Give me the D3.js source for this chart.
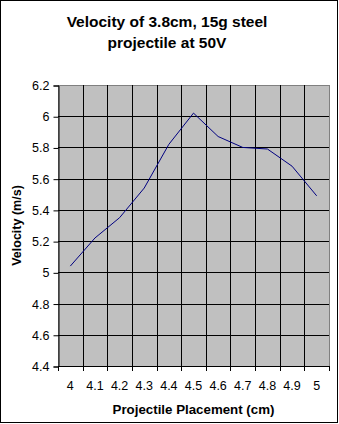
<!DOCTYPE html>
<html>
<head>
<meta charset="utf-8">
<script src="https://cdn.jsdelivr.net/npm/d3@7/dist/d3.min.js"></script>
<style>
  html, body { margin: 0; padding: 0; background: #fff; }
  svg { display: block; font-family: "Liberation Sans", Arial, sans-serif; }
</style>
</head>
<body>
<svg id="chart" width="339" height="424"></svg>
<script>
// Projectile placement (cm) categories and measured velocities (m/s)
const placements = ["4", "4.1", "4.2", "4.3", "4.4", "4.5", "4.6", "4.7", "4.8", "4.9", "5"];
const velocities = [5.04, 5.22, 5.35, 5.54, 5.82, 6.02, 5.87, 5.80, 5.79, 5.68, 5.49];
const yTicks = [4.4, 4.6, 4.8, 5.0, 5.2, 5.4, 5.6, 5.8, 6.0, 6.2];
const titleLines = ["Velocity of 3.8cm, 15g steel", "projectile at 50V"];
const xTitle = "Projectile Placement (cm)";
const yTitle = "Velocity (m/s)";

const svg = d3.select("#chart");
const plot = { left: 58, right: 329, top: 85, bottom: 366 };

// outer chart frame
svg.append("rect")
  .attr("x", 0.5).attr("y", 0.5)
  .attr("width", 337).attr("height", 422)
  .attr("fill", "#fff").attr("stroke", "#000").attr("stroke-width", 1);

const x = d3.scaleBand().domain(placements).range([plot.left, plot.right]).padding(0);
const y = d3.scaleLinear().domain([yTicks[0], yTicks[yTicks.length - 1]]).range([plot.bottom, plot.top]);

// plot background
svg.append("rect")
  .attr("x", plot.left + 0.5).attr("y", plot.top + 0.5)
  .attr("width", plot.right - plot.left).attr("height", plot.bottom - plot.top)
  .attr("fill", "#c0c0c0").attr("stroke", "#808080").attr("stroke-width", 1);

// category boundaries for vertical gridlines and x ticks
const bounds = placements.map(p => x(p)).concat([x(placements[placements.length - 1]) + x.bandwidth()]);
const crisp = v => Math.round(v) + 0.5;

svg.append("g").selectAll("line")
  .data(bounds.slice(1, -1))
  .join("line")
  .attr("x1", d => crisp(d)).attr("x2", d => crisp(d))
  .attr("y1", plot.top).attr("y2", plot.bottom)
  .attr("stroke", "#000");

svg.append("g").selectAll("line")
  .data(yTicks.slice(1, -1))
  .join("line")
  .attr("x1", plot.left).attr("x2", plot.right)
  .attr("y1", d => crisp(y(d))).attr("y2", d => crisp(y(d)))
  .attr("stroke", "#000");

// y axis
const yAxis = d3.axisLeft(y)
  .tickValues(yTicks)
  .tickSize(5)
  .tickPadding(4)
  .tickFormat(d => String(+d.toFixed(1)));
const yg = svg.append("g")
  .attr("transform", `translate(${plot.left + 0.5},0.5)`)
  .call(yAxis);
yg.select(".domain").attr("stroke", "#000");
yg.selectAll(".tick line").attr("stroke", "#000");
yg.selectAll(".tick text")
  .attr("fill", "#000")
  .style("font-size", "12.5px")
  .style("font-family", "'Liberation Sans', Arial, sans-serif");

// x axis: labels centred in categories, ticks at boundaries
const xAxis = d3.axisBottom(x).tickSize(0).tickPadding(15);
const xg = svg.append("g")
  .attr("transform", `translate(0,${plot.bottom + 0.5})`)
  .call(xAxis);
xg.select(".domain").remove();
xg.selectAll(".tick text")
  .attr("fill", "#000")
  .style("font-size", "12.5px")
  .style("font-family", "'Liberation Sans', Arial, sans-serif");

svg.append("line")
  .attr("x1", plot.left).attr("x2", plot.right + 1)
  .attr("y1", plot.bottom + 0.5).attr("y2", plot.bottom + 0.5)
  .attr("stroke", "#000");
svg.append("g").selectAll("line")
  .data(bounds)
  .join("line")
  .attr("x1", d => crisp(d)).attr("x2", d => crisp(d))
  .attr("y1", plot.bottom).attr("y2", plot.bottom + 5)
  .attr("stroke", "#000");

// velocity line
const line = d3.line()
  .x((d, i) => x(placements[i]) + x.bandwidth() / 2)
  .y(d => y(d));
svg.append("path")
  .datum(velocities)
  .attr("d", line)
  .attr("fill", "none")
  .attr("stroke", "#000080")
  .attr("stroke-width", 1);

// titles
svg.append("g").selectAll("text")
  .data(titleLines)
  .join("text")
  .attr("x", 167)
  .attr("y", (d, i) => 27 + i * 21)
  .attr("text-anchor", "middle")
  .style("font-size", "15.5px")
  .style("font-weight", "bold")
  .text(d => d);

svg.append("text")
  .attr("x", (plot.left + plot.right) / 2)
  .attr("y", 414)
  .attr("text-anchor", "middle")
  .style("font-size", "13.3px")
  .style("font-weight", "bold")
  .text(xTitle);

svg.append("text")
  .attr("transform", `translate(21,${(plot.top + plot.bottom) / 2}) rotate(-90)`)
  .attr("text-anchor", "middle")
  .style("font-size", "12.5px")
  .style("font-weight", "bold")
  .text(yTitle);
</script>
</body>
</html>
